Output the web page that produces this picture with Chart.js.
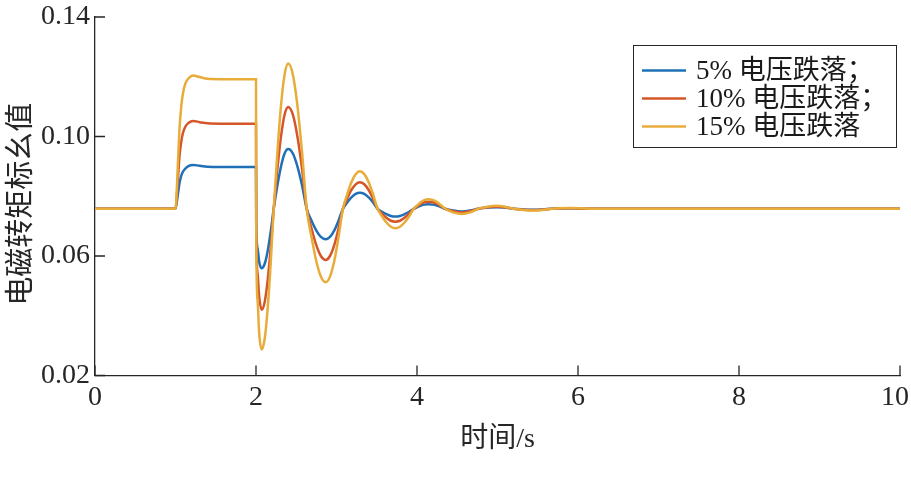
<!DOCTYPE html>
<html><head><meta charset="utf-8">
<script src="https://cdn.jsdelivr.net/npm/chart.js@4.4.1/dist/chart.umd.min.js"></script>
<style>html,body{margin:0;padding:0;background:#fff;}#wrap{width:911px;height:479px;}</style>
</head><body><div id="wrap"><canvas id="c" width="911" height="479"></canvas></div>
<script>
const times = [0, 1.0, 1.03, 1.05, 1.07, 1.09, 1.12, 1.16, 1.22, 1.3, 1.4, 1.55, 2.0, 2.003, 2.02, 2.04, 2.07, 2.108, 2.145, 2.183, 2.22, 2.265, 2.31, 2.355, 2.40, 2.458, 2.515, 2.573, 2.63, 2.689, 2.748, 2.806, 2.865, 2.919, 2.973, 3.026, 3.08, 3.133, 3.185, 3.238, 3.29, 3.345, 3.40, 3.455, 3.51, 3.565, 3.62, 3.675, 3.73, 3.788, 3.845, 3.903, 3.96, 4.005, 4.05, 4.095, 4.14, 4.193, 4.245, 4.298, 4.35, 4.45, 4.555, 4.66, 4.76, 4.875, 4.99, 5.095, 5.2, 5.32, 5.44, 5.555, 5.67, 5.9, 6.15, 6.5, 10];
const drop5 = [0.0758, 0.0758, 0.0807, 0.0845, 0.0867, 0.0881, 0.0892, 0.0901, 0.0905, 0.0902, 0.0899, 0.0898, 0.0898, 0.0700, 0.0625, 0.0580, 0.0559, 0.0574, 0.0617, 0.0682, 0.0758, 0.0835, 0.0899, 0.0943, 0.0958, 0.0943, 0.0899, 0.0835, 0.0758, 0.0719, 0.0686, 0.0664, 0.0656, 0.0664, 0.0686, 0.0719, 0.0758, 0.0779, 0.0796, 0.0808, 0.0812, 0.0808, 0.0796, 0.0779, 0.0758, 0.0748, 0.0740, 0.0734, 0.0732, 0.0734, 0.0740, 0.0748, 0.0758, 0.0764, 0.0769, 0.0772, 0.0773, 0.0772, 0.0769, 0.0764, 0.0758, 0.0752, 0.0749, 0.0752, 0.0758, 0.0762, 0.0763, 0.0762, 0.0758, 0.0756, 0.0755, 0.0756, 0.0758, 0.0760, 0.0758, 0.0758, 0.0758];
const drop10 = [0.0758, 0.0758, 0.0858, 0.0935, 0.0980, 0.1009, 0.1032, 0.1045, 0.1052, 0.1048, 0.1044, 0.1043, 0.1043, 0.0680, 0.0540, 0.0463, 0.0420, 0.0446, 0.0519, 0.0629, 0.0758, 0.0889, 0.0999, 0.1073, 0.1099, 0.1073, 0.0999, 0.0889, 0.0758, 0.0693, 0.0637, 0.0600, 0.0587, 0.0600, 0.0637, 0.0693, 0.0758, 0.0792, 0.0821, 0.0840, 0.0847, 0.0840, 0.0821, 0.0792, 0.0758, 0.0742, 0.0728, 0.0718, 0.0715, 0.0718, 0.0728, 0.0742, 0.0758, 0.0767, 0.0775, 0.0780, 0.0782, 0.0780, 0.0775, 0.0767, 0.0758, 0.0750, 0.0746, 0.0750, 0.0758, 0.0763, 0.0765, 0.0763, 0.0758, 0.0755, 0.0754, 0.0755, 0.0758, 0.0760, 0.0758, 0.0758, 0.0758];
const drop15 = [0.0758, 0.0758, 0.0910, 0.1027, 0.1097, 0.1140, 0.1175, 0.1194, 0.1204, 0.1199, 0.1193, 0.1192, 0.1192, 0.0660, 0.0450, 0.0340, 0.0287, 0.0323, 0.0425, 0.0578, 0.0758, 0.0944, 0.1102, 0.1207, 0.1244, 0.1207, 0.1102, 0.0944, 0.0758, 0.0664, 0.0584, 0.0531, 0.0512, 0.0531, 0.0584, 0.0664, 0.0758, 0.0806, 0.0847, 0.0874, 0.0884, 0.0874, 0.0847, 0.0806, 0.0758, 0.0733, 0.0712, 0.0698, 0.0693, 0.0698, 0.0712, 0.0733, 0.0758, 0.0770, 0.0781, 0.0788, 0.0790, 0.0788, 0.0781, 0.0770, 0.0758, 0.0746, 0.0741, 0.0746, 0.0758, 0.0765, 0.0768, 0.0765, 0.0758, 0.0754, 0.0752, 0.0754, 0.0758, 0.0761, 0.0758, 0.0758, 0.0758];
const seriesNames = ['5% 电压跌落；', '10% 电压跌落；', '15% 电压跌落'];
const seriesColors = ['#1F70B6', '#D4572A', '#E8AC3A'];
const xTicks = [0, 2, 4, 6, 8, 10];
const yTicks = [0.02, 0.06, 0.10, 0.14];
const xTitle = '时间/s';
const yTitle = '电磁转矩标幺值';

const FONT = '"Liberation Serif", "Noto Sans CJK SC", serif';
const AXIS = '#262626';

function pts(vals) { return times.map((t, i) => ({ x: t, y: vals[i] })); }

const inwardTicks = {
  id: 'inwardTicks',
  afterDatasetsDraw(chart) {
    const { ctx, chartArea: a, scales: { x, y } } = chart;
    ctx.save();
    ctx.strokeStyle = AXIS; ctx.lineWidth = 1.3;
    ctx.beginPath();
    x.ticks.forEach(t => { const px = x.getPixelForValue(t.value); ctx.moveTo(px, a.bottom); ctx.lineTo(px, a.bottom - 10); });
    y.ticks.forEach(t => { const py = y.getPixelForValue(t.value); ctx.moveTo(a.left, py); ctx.lineTo(a.left + 10, py); });
    ctx.stroke();
    ctx.restore();
  }
};

const axisTexts = {
  id: 'axisTexts',
  afterDraw(chart) {
    const { ctx, chartArea: a, scales: { x } } = chart;
    ctx.save();
    ctx.font = '28px ' + FONT;
    ctx.fillStyle = AXIS;
    ctx.textAlign = 'center';
    ctx.textBaseline = 'top';
    x.ticks.forEach(t => {
      const label = String(t.value);
      const w = ctx.measureText(label).width;
      const px = Math.min(x.getPixelForValue(t.value), chart.width - w / 2 - 2);
      ctx.fillText(label, px, a.bottom + 8);
    });
    // y-axis title
    ctx.font = '29px ' + FONT;
    ctx.textBaseline = 'middle';
    ctx.translate(22, (a.top + a.bottom) / 2 + 8);
    ctx.rotate(-Math.PI / 2);
    ctx.fillText(yTitle, 0, 0);
    ctx.restore();
  }
};

const boxLegend = {
  id: 'boxLegend',
  afterDraw(chart) {
    const { ctx, chartArea: a } = chart;
    const bw = 263, bh = 102;
    const bx = a.right - 4 - bw, by = a.top + 28;
    ctx.save();
    ctx.fillStyle = '#fff';
    ctx.fillRect(bx, by, bw, bh);
    ctx.strokeStyle = AXIS; ctx.lineWidth = 1;
    ctx.strokeRect(bx + 0.5, by + 0.5, bw, bh);
    ctx.font = '27px ' + FONT;
    ctx.textBaseline = 'middle';
    chart.data.datasets.forEach((ds, i) => {
      const cy = by + 25.5 + i * 28;
      ctx.strokeStyle = ds.borderColor; ctx.lineWidth = 2.5;
      ctx.beginPath(); ctx.moveTo(bx + 9, cy); ctx.lineTo(bx + 53, cy); ctx.stroke();
      ctx.fillStyle = '#1a1a1a';
      ctx.fillText(ds.label, bx + 63, cy + 1);
    });
    ctx.restore();
  }
};

new Chart(document.getElementById('c'), {
  type: 'line',
  data: {
    datasets: [drop5, drop10, drop15].map((v, i) => ({
      label: seriesNames[i],
      data: pts(v),
      borderColor: seriesColors[i],
      backgroundColor: seriesColors[i],
      borderWidth: 2.5,
      pointRadius: 0,
      fill: false,
      cubicInterpolationMode: 'monotone',
      order: 3 - i
    }))
  },
  options: {
    responsive: false,
    animation: false,
    devicePixelRatio: 1,
    layout: { padding: { top: 17, right: 11, bottom: 0, left: 0 } },
    plugins: { legend: { display: false }, tooltip: { enabled: false } },
    scales: {
      x: {
        type: 'linear', min: 0, max: 10,
        afterBuildTicks: s => { s.ticks = xTicks.map(v => ({ value: v })); },
        afterFit: s => { s.height = 103.5; s.paddingLeft = 0; s.paddingRight = 0; },
        ticks: { display: false },
        grid: { display: true, drawOnChartArea: false, drawTicks: false },
        border: { display: true, color: AXIS, width: 1.3 },
        title: { display: true, text: xTitle, color: AXIS, font: { family: FONT, size: 28 }, padding: { top: 0, bottom: 23 } }
      },
      y: {
        type: 'linear', min: 0.02, max: 0.14,
        afterBuildTicks: s => { s.ticks = yTicks.map(v => ({ value: v })); },
        afterFit: s => { s.width = 95; s.paddingTop = 0; s.paddingBottom = 0; },
        ticks: { color: AXIS, font: { family: FONT, size: 28 }, padding: 5, callback: v => v.toFixed(2) },
        grid: { display: true, drawOnChartArea: false, drawTicks: false },
        border: { display: true, color: AXIS, width: 1.3 },
        title: { display: false }
      }
    }
  },
  plugins: [inwardTicks, axisTexts, boxLegend]
});
</script></body></html>
